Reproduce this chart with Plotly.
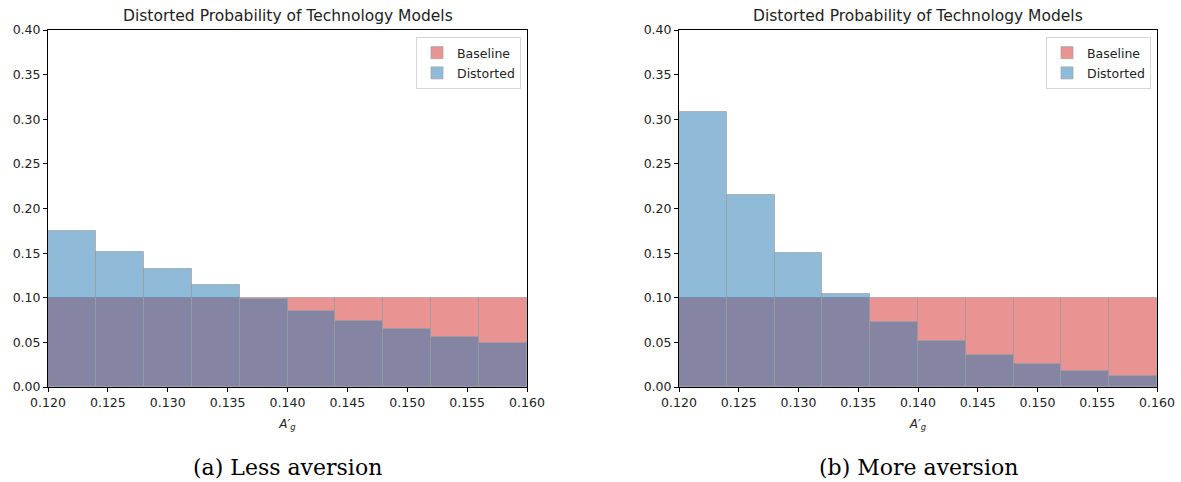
import plotly.graph_objects as go

# Histogram bin edges on A'_g (10 equal-width bins)
bin_edges = [0.120, 0.124, 0.128, 0.132, 0.136, 0.140, 0.144, 0.148, 0.152, 0.156, 0.160]

# Baseline: uniform prior over technology models
baseline_probs = [0.10, 0.10, 0.10, 0.10, 0.10, 0.10, 0.10, 0.10, 0.10, 0.10]

# Distorted probabilities, less aversion
distorted_less = [0.1753, 0.1510, 0.1317, 0.1140, 0.0987, 0.0856, 0.0743, 0.0646, 0.0563, 0.0495]

# Distorted probabilities, more aversion
distorted_more = [0.3079, 0.2147, 0.1500, 0.1047, 0.0732, 0.0514, 0.0364, 0.0255, 0.0180, 0.0124]

panel_titles = ["Distorted Probability of Technology Models",
                "Distorted Probability of Technology Models"]
captions = ["(a) Less aversion", "(b) More aversion"]

W, H = 1181, 482
RED_FILL = "rgba(214,39,40,0.5)"
BLUE_FILL = "rgba(31,119,180,0.5)"
EDGE = "rgba(160,160,160,0.7)"
SANS = "DejaVu Sans"
SERIF = "DejaVu Serif"

centers = [(a + b) / 2 for a, b in zip(bin_edges[:-1], bin_edges[1:])]
widths = [b - a for a, b in zip(bin_edges[:-1], bin_edges[1:])]

# Plot-area placement in pixels: (left, right), shared (top, bottom)
panels_px = [(48, 527), (679, 1157)]
top_px, bottom_px = 30, 387
legend_right_px = [521, 1151]

fig = go.Figure()

for i, distorted in enumerate([distorted_less, distorted_more]):
    sfx = "" if i == 0 else str(i + 1)
    leg = "legend" if i == 0 else "legend" + str(i + 1)
    fig.add_trace(go.Bar(
        x=centers, y=baseline_probs, width=widths, name="Baseline",
        marker=dict(color=RED_FILL, line=dict(color=EDGE, width=1)),
        xaxis="x" + sfx, yaxis="y" + sfx, legend=leg,
        legendgroup="base" + sfx, hoverinfo="x+y",
    ))
    fig.add_trace(go.Bar(
        x=centers, y=distorted, width=widths, name="Distorted",
        marker=dict(color=BLUE_FILL, line=dict(color=EDGE, width=1)),
        xaxis="x" + sfx, yaxis="y" + sfx, legend=leg,
        legendgroup="dist" + sfx, hoverinfo="x+y",
    ))

axis_common = dict(
    showline=True, mirror=True, linecolor="black", linewidth=1,
    ticks="outside", ticklen=4, tickwidth=1, tickcolor="black",
    showgrid=False, zeroline=False, automargin=False,
    tickfont=dict(family=SANS, size=12.5, color="#222"),
)

layout = dict(
    width=W, height=H,
    margin=dict(l=0, r=0, t=0, b=0, autoexpand=False),
    paper_bgcolor="white", plot_bgcolor="white",
    barmode="overlay", bargap=0,
    showlegend=True,
)

ydom = [1 - bottom_px / H, 1 - top_px / H]
annotations = []
for i, (l, r) in enumerate(panels_px):
    sfx = "" if i == 0 else str(i + 1)
    layout["xaxis" + sfx] = dict(
        axis_common, domain=[l / W, r / W], range=[0.12, 0.16],
        dtick=0.005, tick0=0.12, tickformat=".3f",
        anchor="y" + sfx,
        title=dict(text="<i>A′<sub>g</sub></i>", standoff=10,
                   font=dict(family=SANS, size=12, color="#222")),
    )
    layout["yaxis" + sfx] = dict(
        axis_common, domain=ydom, range=[0, 0.4],
        dtick=0.05, tick0=0, tickformat=".2f",
        anchor="x" + sfx,
    )
    leg = "legend" if i == 0 else "legend" + str(i + 1)
    layout[leg] = dict(
        x=legend_right_px[i] / W, y=1 - 37 / H,
        xanchor="right", yanchor="top",
        bgcolor="white", bordercolor="#d6d6d6", borderwidth=1,
        font=dict(family=SANS, size=12.5, color="#222"),
        tracegroupgap=1,
    )
    cx = (l + r) / 2 / W
    annotations.append(dict(
        text=panel_titles[i], x=cx, y=1 - 16 / H, xref="paper", yref="paper",
        xanchor="center", yanchor="middle", showarrow=False,
        font=dict(family=SANS, size=15.5, color="#222"),
    ))
    annotations.append(dict(
        text=captions[i], x=cx, y=1 - 467 / H, xref="paper", yref="paper",
        xanchor="center", yanchor="middle", showarrow=False,
        font=dict(family=SERIF, size=22, color="black"),
    ))

layout["annotations"] = annotations
fig.update_layout(**layout)

fig.write_html("out.html")
